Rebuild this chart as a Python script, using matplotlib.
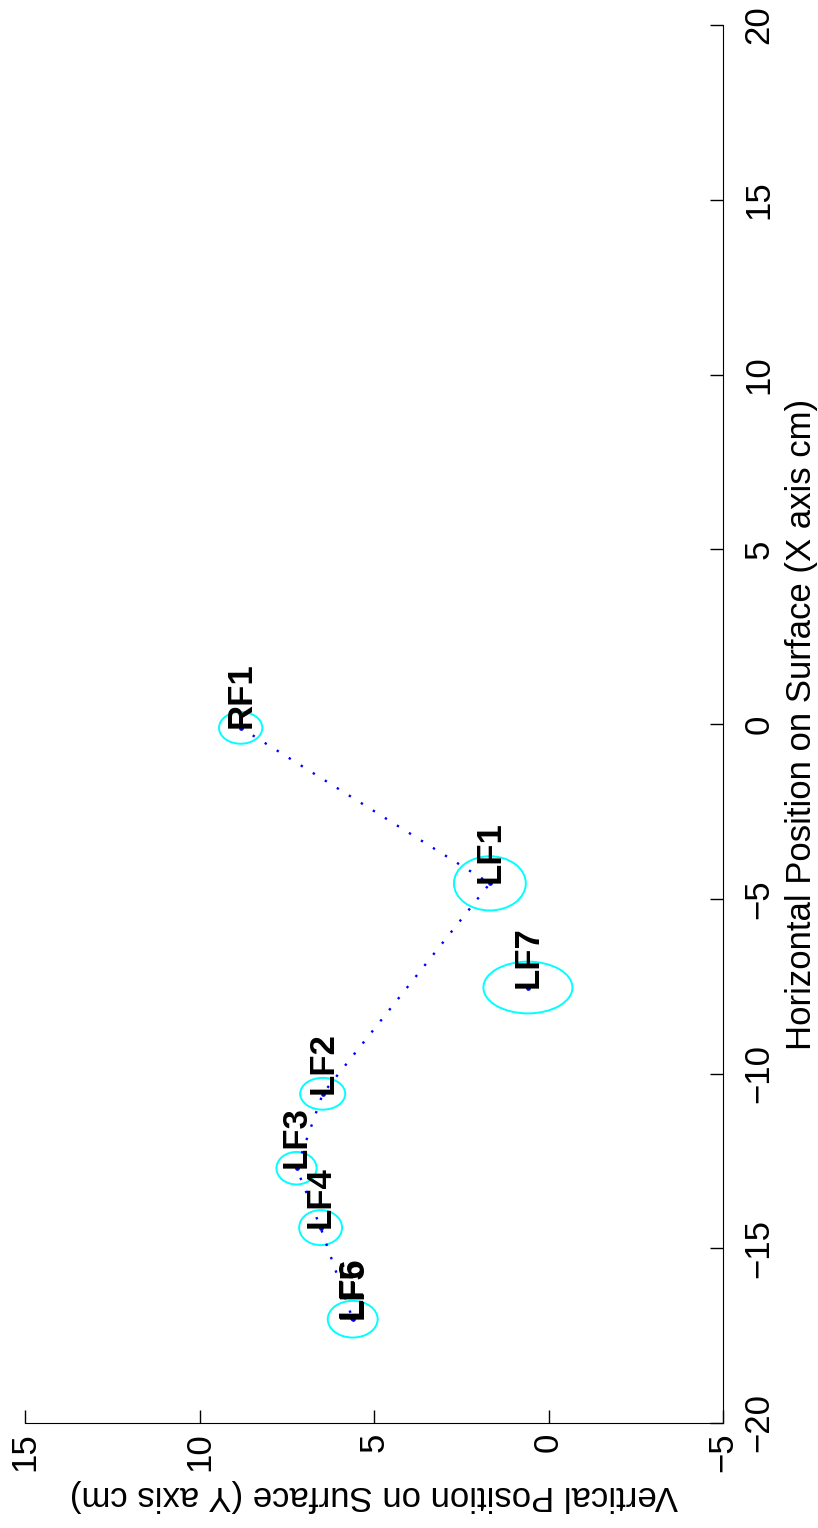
import numpy as np
import matplotlib
matplotlib.use('Agg')
import matplotlib.pyplot as plt
from matplotlib.patches import Ellipse

plt.rcParams['font.family'] = ['Liberation Sans', 'DejaVu Sans']

# footstep data (X = horizontal position, Y = vertical position, cm)
labels = ['RF1', 'LF1', 'LF2', 'LF3', 'LF4', 'LF5', 'LF6', 'LF7']
x_pos = [-0.11, -4.56, -10.58, -12.71, -14.41, -17.03, -17.00, -7.54]
y_pos = [8.82, 1.68, 6.47, 7.22, 6.53, 5.61, 5.63, 0.59]
# ellipse extents (along Y, along X); LF6 shares LF5's ellipse
ell_y = [1.24, 2.06, 1.29, 1.15, 1.23, 1.43, None, 2.55]
ell_x = [0.91, 1.55, 0.91, 0.93, 1.00, 1.05, None, 1.48]
n_path = 7  # steps joined by the dotted trail

x_ticks = [-20, -15, -10, -5, 0, 5, 10, 15, 20]
y_ticks = [-5, 0, 5, 10, 15]

W, H = 818, 1528
fig = plt.figure(figsize=(W / 100, H / 100), dpi=100)
# page is printed rotated: Y runs along the bottom (reversed), X up the right side
ax = fig.add_axes([25 / W, (H - 1423) / H, 698 / W, 1398 / H])

ax.plot(y_pos[:n_path], x_pos[:n_path], color='blue', lw=1.7,
        linestyle=(0, (1, 5)))
ax.plot(y_pos, x_pos, 'o', color='blue', markersize=3.4, markeredgewidth=0)

for i in range(len(labels)):
    if ell_y[i] is not None:
        ax.add_patch(Ellipse((y_pos[i], x_pos[i]), ell_y[i], ell_x[i],
                             fill=False, edgecolor='cyan', lw=1.4))
    ax.text(y_pos[i], x_pos[i], labels[i], rotation=90, rotation_mode='anchor',
            ha='left', va='center', fontsize=25, fontweight='bold')

ax.set_xlim(15, -5)
ax.set_ylim(-20, 20)
ax.set_xticks(y_ticks)
ax.set_yticks(x_ticks)

ax.spines['top'].set_visible(False)
ax.spines['left'].set_visible(False)
ax.yaxis.tick_right()
ax.tick_params(axis='x', direction='in', length=9.4, width=1, labelsize=25,
               labelrotation=90, pad=7)
ax.tick_params(axis='y', direction='in', length=9.4, width=1, labelsize=25,
               labelrotation=90, pad=14)
for t in ax.get_xticklabels():
    t.set_ha('center')
    t.set_va('top')
for t in ax.get_yticklabels():
    t.set_va('center')
    t.set_ha('left')

ax.set_xlabel('Vertical Position on Surface (Y axis cm)', fontsize=25, rotation=180)
ax.xaxis.label.set_va('center')
ax.xaxis.set_label_coords(0.5, -0.052)
ax.yaxis.set_label_position('right')
ax.set_ylabel('Horizontal Position on Surface (X axis cm)', fontsize=25, rotation=90)
ax.yaxis.label.set_va('center')
ax.yaxis.set_label_coords(1.113, 0.5)

plt.savefig('out.png', dpi=100)
